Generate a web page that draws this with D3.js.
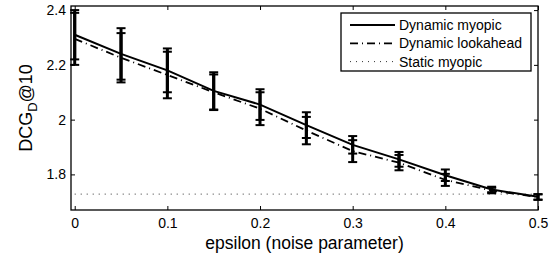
<!DOCTYPE html>
<html>
<head>
<meta charset="utf-8">
<script src="https://cdn.jsdelivr.net/npm/d3@7"></script>
<style>
  body { margin: 0; background: #fff; }
  svg text { font-family: "Liberation Sans", Arial, sans-serif; fill: #000; }
</style>
</head>
<body>
<svg width="557" height="259"></svg>
<script>
const width = 557;
const height = 259;
const margin = { top: 6, right: 19, bottom: 49, left: 71 };

// data
const epsilon = [0, 0.05, 0.1, 0.15, 0.2, 0.25, 0.3, 0.35, 0.4, 0.45, 0.5];
const myopic = [2.31, 2.24, 2.18, 2.105, 2.055, 1.98, 1.908, 1.855, 1.797, 1.745, 1.718];
const myopicErr = [0.09, 0.094, 0.08, 0.068, 0.056, 0.047, 0.032, 0.027, 0.021, 0.01, 0.01];
const lookahead = [2.295, 2.226, 2.163, 2.1, 2.04, 1.96, 1.885, 1.843, 1.78, 1.741, 1.717];
const lookaheadErr = [0.095, 0.09, 0.085, 0.065, 0.06, 0.05, 0.04, 0.028, 0.022, 0.01, 0.01];
const staticMyopic = 1.728;
const xTicks = [0, 0.1, 0.2, 0.3, 0.4, 0.5];
const yTicks = [1.8, 2, 2.2, 2.4];
const legendLabels = ['Dynamic myopic', 'Dynamic lookahead', 'Static myopic'];

const svg = d3.select('svg');

const xScale = d3.scaleLinear()
  .domain([-0.004, 0.5])
  .range([margin.left, width - margin.right]);

const yScale = d3.scaleLinear()
  .domain([1.67, 2.415])
  .range([height - margin.bottom, margin.top]);

const plotW = width - margin.left - margin.right;
const plotH = height - margin.top - margin.bottom;

// axes, matlab style: ticks inside on all four sides
const xAxis = d3.axisBottom(xScale).tickValues(xTicks).tickSize(-4).tickPadding(8)
  .tickFormat(d3.format('~g'));
const yAxis = d3.axisLeft(yScale).tickValues(yTicks).tickSize(-4).tickPadding(5)
  .tickFormat(d3.format('~g'));

svg.append('g')
  .attr('transform', `translate(0,${height - margin.bottom})`)
  .call(xAxis);
svg.append('g')
  .attr('transform', `translate(${margin.left},0)`)
  .call(yAxis);
svg.append('g')
  .attr('transform', `translate(0,${margin.top})`)
  .call(d3.axisTop(xScale).tickValues(xTicks).tickSize(-4).tickFormat(''));
svg.append('g')
  .attr('transform', `translate(${width - margin.right},0)`)
  .call(d3.axisRight(yScale).tickValues(yTicks).tickSize(-4).tickFormat(''));

svg.selectAll('.domain').remove();
svg.selectAll('.tick line').attr('stroke', '#000');
svg.selectAll('.tick text').attr('font-size', 14);

svg.append('rect')
  .attr('x', margin.left)
  .attr('y', margin.top)
  .attr('width', plotW)
  .attr('height', plotH)
  .attr('fill', 'none')
  .attr('stroke', '#000')
  .attr('stroke-width', 1.3);

// static myopic baseline
svg.append('line')
  .attr('x1', xScale(epsilon[0]))
  .attr('x2', xScale(epsilon[epsilon.length - 1]))
  .attr('y1', yScale(staticMyopic))
  .attr('y2', yScale(staticMyopic))
  .attr('stroke', '#333')
  .attr('stroke-width', 1)
  .attr('stroke-dasharray', '1,5');

const line = d3.line()
  .x((d, i) => xScale(epsilon[i]))
  .y(d => d);

svg.append('path')
  .attr('d', line(lookahead.map(v => yScale(v))))
  .attr('fill', 'none')
  .attr('stroke', '#000')
  .attr('stroke-width', 1.8)
  .attr('stroke-dasharray', '8,4,1,4');

svg.append('path')
  .attr('d', line(myopic.map(v => yScale(v))))
  .attr('fill', 'none')
  .attr('stroke', '#000')
  .attr('stroke-width', 2);

// error bars for both series
function errorBars(vals, errs) {
  const g = svg.append('g').attr('stroke', '#000');
  epsilon.forEach((e, i) => {
    const x = xScale(e);
    const y0 = yScale(vals[i] - errs[i]);
    const y1 = yScale(vals[i] + errs[i]);
    g.append('line').attr('x1', x).attr('x2', x).attr('y1', y0).attr('y2', y1)
      .attr('stroke-width', 3);
    [y0, y1].forEach(y => {
      g.append('line').attr('x1', x - 4.5).attr('x2', x + 4.5).attr('y1', y).attr('y2', y)
        .attr('stroke-width', 2);
    });
  });
}
errorBars(myopic, myopicErr);
errorBars(lookahead, lookaheadErr);

// axis labels
svg.append('text')
  .attr('x', margin.left + plotW / 2)
  .attr('y', 248.5)
  .attr('text-anchor', 'middle')
  .attr('font-size', 17.5)
  .text('epsilon (noise parameter)');

const yl = svg.append('text')
  .attr('transform', `translate(32,${margin.top + plotH / 2}) rotate(-90)`)
  .attr('text-anchor', 'middle')
  .attr('font-size', 18);
yl.append('tspan').text('DCG');
yl.append('tspan').attr('dy', 5).attr('font-size', 13).text('D');
yl.append('tspan').attr('dy', -5).text('@10');

// legend
const legend = svg.append('g');
legend.append('rect')
  .attr('x', 341).attr('y', 13)
  .attr('width', 190).attr('height', 58)
  .attr('fill', '#fff')
  .attr('stroke', '#000')
  .attr('stroke-width', 1.3);
const legendStyles = [
  { dash: null, w: 2, c: '#000' },
  { dash: '8,4,1,4', w: 1.8, c: '#000' },
  { dash: '1,5', w: 1, c: '#333' }
];
legendLabels.forEach((lab, i) => {
  const y = 25 + i * 18.3;
  const s = legendStyles[i];
  const ln = legend.append('line')
    .attr('x1', 350).attr('x2', 395)
    .attr('y1', y).attr('y2', y)
    .attr('stroke', s.c)
    .attr('stroke-width', s.w);
  if (s.dash) ln.attr('stroke-dasharray', s.dash);
  legend.append('text')
    .attr('x', 399).attr('y', y + 5)
    .attr('font-size', 14)
    .text(lab);
});
</script>
</body>
</html>
